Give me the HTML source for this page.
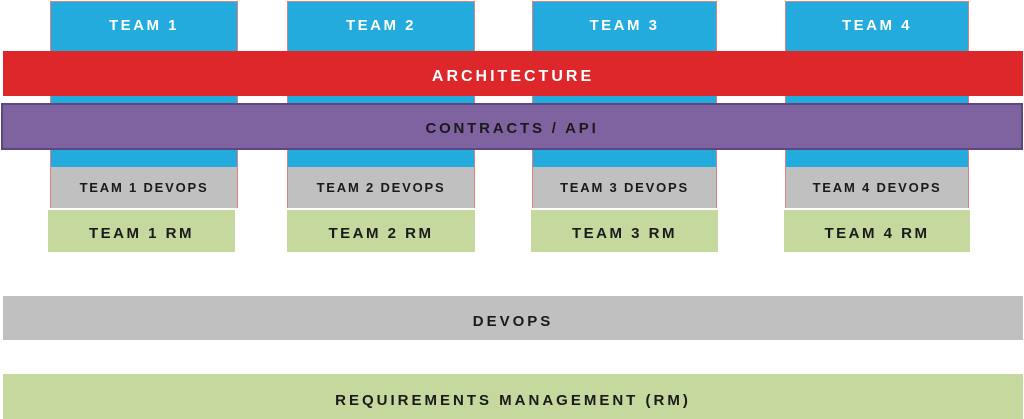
<!DOCTYPE html>
<html><head><meta charset="utf-8"><style>
body{margin:0;width:1024px;height:419px;background:#fff;position:relative;overflow:hidden;font-family:"Liberation Sans",sans-serif;}
div{position:absolute;box-sizing:border-box;display:flex;align-items:center;justify-content:center;font-weight:bold;letter-spacing:1.5px;white-space:nowrap;}
.col{top:1px;height:207px;border:1px solid #e08080;border-bottom:none;background:#22abdc;align-items:flex-start;}
.col span{color:#fff;font-size:15px;margin-top:15px;letter-spacing:2.5px;}
.dv{top:167px;height:41px;background:#c0c0c0;color:#1a1a1a;font-size:13px;letter-spacing:1.8px;}
.rm{top:210px;height:42px;padding-top:4px;background:#c5d89e;color:#1a1a1a;font-size:15px;letter-spacing:2.5px;}
</style></head><body>
<div class="col" style="left:50px;width:188px"><span>TEAM 1</span></div>
<div class="col" style="left:287px;width:188px"><span>TEAM 2</span></div>
<div class="col" style="left:532px;width:185px"><span>TEAM 3</span></div>
<div class="col" style="left:785px;width:184px"><span>TEAM 4</span></div>
<div class="dv" style="left:51px;width:186px">TEAM 1 DEVOPS</div>
<div class="dv" style="left:288px;width:186px">TEAM 2 DEVOPS</div>
<div class="dv" style="left:533px;width:183px">TEAM 3 DEVOPS</div>
<div class="dv" style="left:786px;width:182px">TEAM 4 DEVOPS</div>
<div class="rm" style="left:48px;width:187px">TEAM 1 RM</div>
<div class="rm" style="left:287px;width:188px">TEAM 2 RM</div>
<div class="rm" style="left:531px;width:187px">TEAM 3 RM</div>
<div class="rm" style="left:784px;width:186px">TEAM 4 RM</div>
<div style="left:3px;top:51px;width:1020px;height:45px;padding-top:7px;background:#dd272a;color:#fff;font-size:16px;letter-spacing:3px;">ARCHITECTURE</div>
<div style="left:1px;top:103px;width:1022px;height:47px;padding-top:4px;background:#7f63a0;border:2px solid #5c4880;color:#1a1a1a;font-size:15px;letter-spacing:2.8px;">CONTRACTS / API</div>
<div style="left:3px;top:296px;width:1020px;height:44px;padding-top:7px;background:#c0c0c0;color:#1a1a1a;font-size:15px;letter-spacing:3px;">DEVOPS</div>
<div style="left:3px;top:374px;width:1020px;height:45px;padding-top:7px;background:#c5d89e;color:#1a1a1a;font-size:15px;letter-spacing:3px;">REQUIREMENTS MANAGEMENT (RM)</div>
</body></html>
